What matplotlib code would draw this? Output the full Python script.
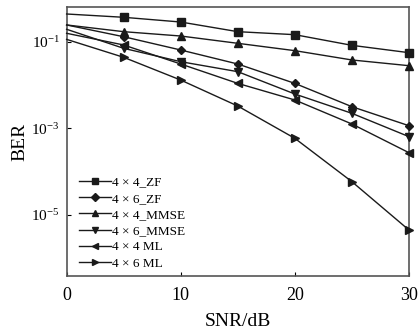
import matplotlib
matplotlib.use("Agg")
import matplotlib.pyplot as plt
from matplotlib.ticker import FixedLocator, NullLocator

snr = [0, 5, 10, 15, 20, 25, 30]
labels = ["4 × 4_ZF", "4 × 6_ZF", "4 × 4_MMSE", "4 × 6_MMSE", "4 × 4 ML", "4 × 6 ML"]
ber_44_zf = [0.435, 0.365, 0.284, 0.170, 0.145, 0.0823, 0.0557]
ber_46_zf = [0.243, 0.130, 0.0642, 0.0305, 0.0109, 0.00316, 0.00115]
ber_44_mmse = [0.243, 0.170, 0.135, 0.0916, 0.062, 0.0378, 0.0279]
ber_46_mmse = [0.193, 0.0702, 0.0345, 0.0203, 0.0062, 0.00222, 0.000643]
ber_44_ml = [0.156, 0.0838, 0.0305, 0.0109, 0.00451, 0.00126, 0.000274]
ber_46_ml = [0.113, 0.0435, 0.013, 0.00327, 0.000588, 5.88e-5, 4.5e-6]
series = [ber_44_zf, ber_46_zf, ber_44_mmse, ber_46_mmse, ber_44_ml, ber_46_ml]
markers = ["s", "D", "^", "v", "<", ">"]
yticks = [1e-1, 1e-3, 1e-5]
xticks = [0, 10, 20, 30]

plt.rcParams["font.family"] = ["Liberation Serif", "DejaVu Serif"]
plt.rcParams["mathtext.fontset"] = "stix"

fig = plt.figure(figsize=(4.19, 3.33), dpi=100)
ax = fig.add_axes([0.159, 0.171, 0.817, 0.807])

for ys, m, lab in zip(series, markers, labels):
    ms = 4.4 if m == "D" else 5.2
    ax.plot(snr, ys, color="#1a1a1a", lw=1.0, marker=m, markersize=ms,
            markevery=slice(1, None), label=lab, clip_on=False, zorder=3)

ax.set_yscale("log")
ax.set_xlim(0, 30)
ax.set_ylim(3.9e-7, 0.62)
ax.yaxis.set_major_locator(FixedLocator(yticks))
ax.yaxis.set_minor_locator(NullLocator())
ax.set_xticks(xticks)
ax.tick_params(direction="in", length=3, width=0.8, pad=6)
ax.tick_params(axis="x", labelsize=13, pad=8)
ax.tick_params(axis="y", labelsize=11, pad=5)
for s in ax.spines.values():
    s.set_color("#555555")
    s.set_linewidth(1.2)

ax.set_xlabel("SNR/dB", fontsize=14, labelpad=6)
ax.set_ylabel("BER", fontsize=14, labelpad=2)

ax.legend(loc="lower left", bbox_to_anchor=(0.01, -0.01), frameon=False,
          fontsize=9.5, handlelength=2.4, handletextpad=0.1,
          labelspacing=0.3, borderaxespad=0.3, markerscale=0.9)

fig.savefig("out.png", dpi=100)
